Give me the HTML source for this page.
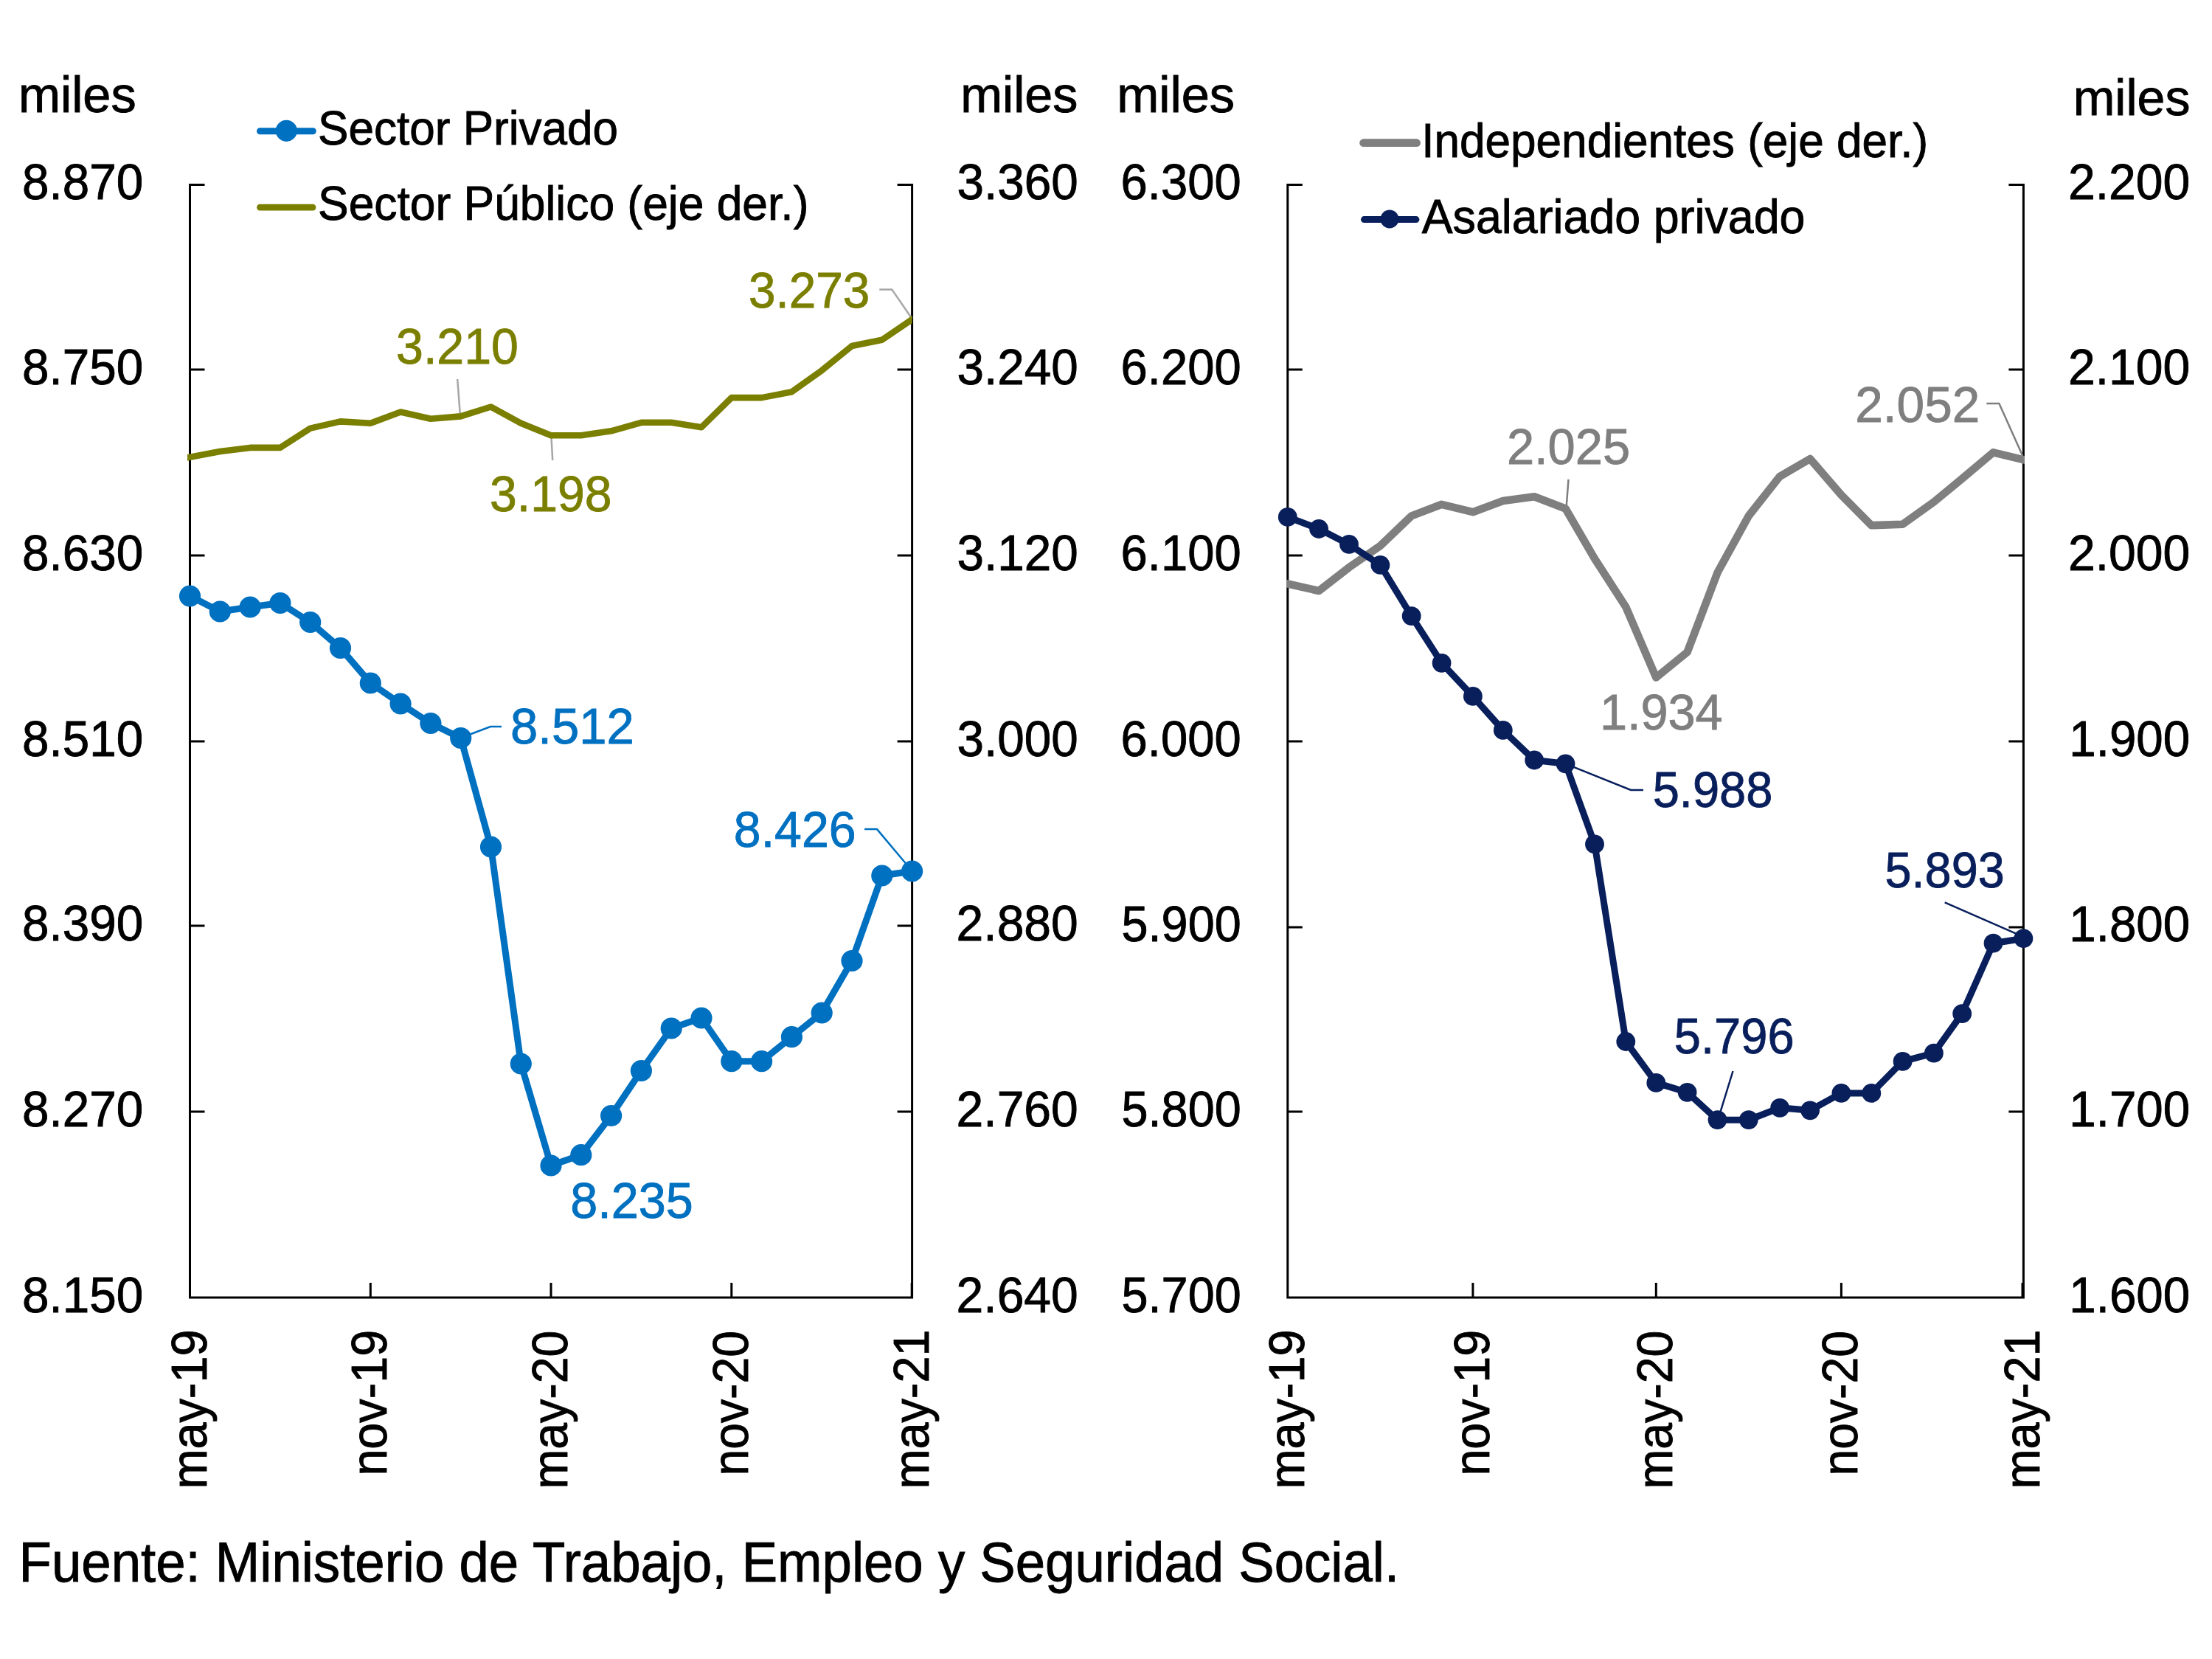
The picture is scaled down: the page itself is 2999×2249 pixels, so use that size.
<!DOCTYPE html>
<html lang="es"><head><meta charset="utf-8"><title>Empleo registrado</title>
<style>html,body{margin:0;padding:0;background:#fff}svg{display:block}text{font-family:'Liberation Sans', sans-serif;stroke-width:0.9px}</style></head><body>
<svg width="2999" height="2249" viewBox="0 0 2999 2249">
<rect width="2999" height="2249" fill="#fff"/>
<path d="M257.5 249.0 V1759.0 H1236.6 V249.0" stroke="#000" stroke-width="3" fill="none"/>
<path d="M257.5 250.5 h20 M1236.6 250.5 h-20 M257.5 501.0 h20 M1236.6 501.0 h-20 M257.5 753.0 h20 M1236.6 753.0 h-20 M257.5 1005.0 h20 M1236.6 1005.0 h-20 M257.5 1255.0 h20 M1236.6 1255.0 h-20 M257.5 1507.0 h20 M1236.6 1507.0 h-20 M502.3 1759.0 v-20 M747.0 1759.0 v-20 M991.8 1759.0 v-20 M1236.2 1759.0 v-20 " stroke="#000" stroke-width="3" fill="none"/>
<path d="M1745.8 249.0 V1759.0 H2743.4 V249.0" stroke="#000" stroke-width="3" fill="none"/>
<path d="M1745.8 250.5 h20 M2743.4 250.5 h-20 M1745.8 501.0 h20 M2743.4 501.0 h-20 M1745.8 753.0 h20 M2743.4 753.0 h-20 M1745.8 1005.0 h20 M2743.4 1005.0 h-20 M1745.8 1257.0 h20 M2743.4 1257.0 h-20 M1745.8 1507.0 h20 M2743.4 1507.0 h-20 M1996.9 1759.0 v-20 M2245.3 1759.0 v-20 M2496.4 1759.0 v-20 M2742.0 1759.0 v-20 " stroke="#000" stroke-width="3" fill="none"/>
<defs><clipPath id="cl"><rect x="254.0" y="0" width="982.6" height="2249"/></clipPath><clipPath id="cr"><rect x="1744.1" y="0" width="1000.8" height="2249"/></clipPath></defs>
<polyline points="620.2,514.0 623.9,562.8" fill="none" stroke="#A6A6A6" stroke-width="2.5"/>
<polyline points="747.4,591.4 749.2,624.0" fill="none" stroke="#A6A6A6" stroke-width="2.5"/>
<polyline points="1192.3,392.4 1209.2,392.4 1236.3,431.7" fill="none" stroke="#A6A6A6" stroke-width="2.5"/>
<polyline points="636.0,996.0 665.0,985.0 680.0,985.0" fill="none" stroke="#0070C0" stroke-width="2.5"/>
<polyline points="1172.1,1124.1 1189.0,1124.1 1228.0,1170.5" fill="none" stroke="#0070C0" stroke-width="2.5"/>
<polyline points="2126.5,649.9 2123.8,685.3" fill="none" stroke="#7F7F7F" stroke-width="2.5"/>
<polyline points="2693.4,547.1 2710.4,547.1 2742.3,618.0" fill="none" stroke="#7F7F7F" stroke-width="2.5"/>
<polyline points="2123.0,1035.7 2211.0,1070.9 2228.0,1070.9" fill="none" stroke="#081F5C" stroke-width="2.5"/>
<polyline points="2636.7,1223.3 2735.6,1266.7" fill="none" stroke="#081F5C" stroke-width="2.5"/>
<polyline points="2349.5,1452.0 2332.0,1508.8" fill="none" stroke="#081F5C" stroke-width="2.5"/>
<polyline points="257.5,619.8 298.3,612.0 339.1,606.9 379.9,606.9 420.7,580.6 461.5,571.4 502.3,573.7 543.1,558.5 583.9,567.7 624.7,564.4 665.5,551.5 706.3,573.7 747.0,590.3 787.8,590.3 828.6,584.3 869.4,572.8 910.2,572.8 951.0,579.2 991.8,539.1 1032.6,539.1 1073.4,531.2 1114.2,502.2 1155.0,469.0 1195.8,460.7 1236.6,433.0" fill="none" stroke="#7B7F00" stroke-width="8.6" stroke-linejoin="round" stroke-linecap="square" clip-path="url(#cl)"/>
<polyline points="257.5,808.0 298.3,829.0 339.1,823.0 379.9,817.5 420.7,843.5 461.5,878.5 502.3,926.0 543.1,954.0 583.9,980.5 624.7,1000.5 665.5,1148.0 706.3,1442.0 747.0,1580.0 787.8,1565.7 828.6,1512.5 869.4,1451.5 910.2,1394.0 951.0,1380.0 991.8,1438.7 1032.6,1438.7 1073.4,1405.7 1114.2,1373.0 1155.0,1302.5 1195.8,1187.0 1236.6,1181.0" fill="none" stroke="#0070C0" stroke-width="9" stroke-linejoin="round" stroke-linecap="round"/>
<g fill="#0070C0"><circle cx="257.5" cy="808.0" r="14.6"/><circle cx="298.3" cy="829.0" r="14.6"/><circle cx="339.1" cy="823.0" r="14.6"/><circle cx="379.9" cy="817.5" r="14.6"/><circle cx="420.7" cy="843.5" r="14.6"/><circle cx="461.5" cy="878.5" r="14.6"/><circle cx="502.3" cy="926.0" r="14.6"/><circle cx="543.1" cy="954.0" r="14.6"/><circle cx="583.9" cy="980.5" r="14.6"/><circle cx="624.7" cy="1000.5" r="14.6"/><circle cx="665.5" cy="1148.0" r="14.6"/><circle cx="706.3" cy="1442.0" r="14.6"/><circle cx="747.0" cy="1580.0" r="14.6"/><circle cx="787.8" cy="1565.7" r="14.6"/><circle cx="828.6" cy="1512.5" r="14.6"/><circle cx="869.4" cy="1451.5" r="14.6"/><circle cx="910.2" cy="1394.0" r="14.6"/><circle cx="951.0" cy="1380.0" r="14.6"/><circle cx="991.8" cy="1438.7" r="14.6"/><circle cx="1032.6" cy="1438.7" r="14.6"/><circle cx="1073.4" cy="1405.7" r="14.6"/><circle cx="1114.2" cy="1373.0" r="14.6"/><circle cx="1155.0" cy="1302.5" r="14.6"/><circle cx="1195.8" cy="1187.0" r="14.6"/><circle cx="1236.6" cy="1181.0" r="14.6"/></g>
<polyline points="1745.8,791.5 1788.1,801.0 1829.0,769.2 1871.4,739.8 1913.7,699.4 1954.6,683.8 1996.9,694.2 2037.8,679.0 2080.2,673.3 2122.5,689.5 2162.0,757.3 2204.3,822.8 2245.3,918.5 2287.6,884.0 2328.5,776.3 2370.8,699.4 2413.1,645.8 2454.1,622.0 2496.4,671.0 2537.3,712.2 2579.6,710.8 2621.9,680.5 2660.2,648.9 2702.5,613.3 2743.4,623.2" fill="none" stroke="#7F7F7F" stroke-width="10.6" stroke-linejoin="round" stroke-linecap="square" clip-path="url(#cr)"/>
<polyline points="1745.8,700.9 1788.1,717.0 1829.0,737.9 1871.4,765.9 1913.7,835.2 1954.6,898.8 1996.9,943.9 2037.8,989.9 2080.2,1030.5 2122.5,1035.3 2162.0,1144.4 2204.3,1412.0 2245.3,1467.9 2287.6,1480.8 2328.5,1518.2 2370.8,1518.2 2413.1,1501.8 2454.1,1505.3 2496.4,1481.9 2537.3,1481.9 2579.6,1438.9 2621.9,1427.7 2660.2,1374.2 2702.5,1278.7 2743.4,1272.2" fill="none" stroke="#081F5C" stroke-width="9" stroke-linejoin="round" stroke-linecap="round"/>
<g fill="#081F5C"><circle cx="1745.8" cy="700.9" r="12.9"/><circle cx="1788.1" cy="717.0" r="12.9"/><circle cx="1829.0" cy="737.9" r="12.9"/><circle cx="1871.4" cy="765.9" r="12.9"/><circle cx="1913.7" cy="835.2" r="12.9"/><circle cx="1954.6" cy="898.8" r="12.9"/><circle cx="1996.9" cy="943.9" r="12.9"/><circle cx="2037.8" cy="989.9" r="12.9"/><circle cx="2080.2" cy="1030.5" r="12.9"/><circle cx="2122.5" cy="1035.3" r="12.9"/><circle cx="2162.0" cy="1144.4" r="12.9"/><circle cx="2204.3" cy="1412.0" r="12.9"/><circle cx="2245.3" cy="1467.9" r="12.9"/><circle cx="2287.6" cy="1480.8" r="12.9"/><circle cx="2328.5" cy="1518.2" r="12.9"/><circle cx="2370.8" cy="1518.2" r="12.9"/><circle cx="2413.1" cy="1501.8" r="12.9"/><circle cx="2454.1" cy="1505.3" r="12.9"/><circle cx="2496.4" cy="1481.9" r="12.9"/><circle cx="2537.3" cy="1481.9" r="12.9"/><circle cx="2579.6" cy="1438.9" r="12.9"/><circle cx="2621.9" cy="1427.7" r="12.9"/><circle cx="2660.2" cy="1374.2" r="12.9"/><circle cx="2702.5" cy="1278.7" r="12.9"/><circle cx="2743.4" cy="1272.2" r="12.9"/></g>
<polyline points="352.5,177.8 424.3,177.8" fill="none" stroke="#0070C0" stroke-width="9" stroke-linejoin="round" stroke-linecap="round"/>
<g fill="#0070C0"><circle cx="388.3" cy="177.3" r="14.6"/></g>
<polyline points="352.4,281.1 424.1,281.1" fill="none" stroke="#7B7F00" stroke-width="8.6" stroke-linejoin="round" stroke-linecap="round"/>
<polyline points="1848.6,193.7 1920.6,193.7" fill="none" stroke="#7F7F7F" stroke-width="10.8" stroke-linejoin="round" stroke-linecap="round"/>
<polyline points="1849.5,297.6 1919.9,297.6" fill="none" stroke="#081F5C" stroke-width="9" stroke-linejoin="round" stroke-linecap="round"/>
<g fill="#081F5C"><circle cx="1884.0" cy="297.0" r="12.5"/></g>
<text x="30.1" y="270.0" font-size="68" fill="#000" stroke="#000" textLength="164.0" lengthAdjust="spacingAndGlyphs">8.870</text>
<text x="30.1" y="520.5" font-size="68" fill="#000" stroke="#000" textLength="164.0" lengthAdjust="spacingAndGlyphs">8.750</text>
<text x="30.1" y="772.5" font-size="68" fill="#000" stroke="#000" textLength="164.0" lengthAdjust="spacingAndGlyphs">8.630</text>
<text x="30.1" y="1024.5" font-size="68" fill="#000" stroke="#000" textLength="164.0" lengthAdjust="spacingAndGlyphs">8.510</text>
<text x="30.1" y="1274.5" font-size="68" fill="#000" stroke="#000" textLength="164.0" lengthAdjust="spacingAndGlyphs">8.390</text>
<text x="30.1" y="1526.5" font-size="68" fill="#000" stroke="#000" textLength="164.0" lengthAdjust="spacingAndGlyphs">8.270</text>
<text x="30.1" y="1778.5" font-size="68" fill="#000" stroke="#000" textLength="164.0" lengthAdjust="spacingAndGlyphs">8.150</text>
<text x="1297.6" y="270.0" font-size="68" fill="#000" stroke="#000" textLength="164.2" lengthAdjust="spacingAndGlyphs">3.360</text>
<text x="1297.6" y="520.5" font-size="68" fill="#000" stroke="#000" textLength="164.2" lengthAdjust="spacingAndGlyphs">3.240</text>
<text x="1297.6" y="772.5" font-size="68" fill="#000" stroke="#000" textLength="164.2" lengthAdjust="spacingAndGlyphs">3.120</text>
<text x="1297.6" y="1024.5" font-size="68" fill="#000" stroke="#000" textLength="164.2" lengthAdjust="spacingAndGlyphs">3.000</text>
<text x="1296.6" y="1274.5" font-size="68" fill="#000" stroke="#000" textLength="165.2" lengthAdjust="spacingAndGlyphs">2.880</text>
<text x="1296.6" y="1526.5" font-size="68" fill="#000" stroke="#000" textLength="165.2" lengthAdjust="spacingAndGlyphs">2.760</text>
<text x="1296.6" y="1778.5" font-size="68" fill="#000" stroke="#000" textLength="165.2" lengthAdjust="spacingAndGlyphs">2.640</text>
<text x="1519.6" y="270.0" font-size="68" fill="#000" stroke="#000" textLength="163.1" lengthAdjust="spacingAndGlyphs">6.300</text>
<text x="1519.6" y="520.5" font-size="68" fill="#000" stroke="#000" textLength="163.1" lengthAdjust="spacingAndGlyphs">6.200</text>
<text x="1519.6" y="772.5" font-size="68" fill="#000" stroke="#000" textLength="163.1" lengthAdjust="spacingAndGlyphs">6.100</text>
<text x="1519.6" y="1024.5" font-size="68" fill="#000" stroke="#000" textLength="163.1" lengthAdjust="spacingAndGlyphs">6.000</text>
<text x="1520.6" y="1275.5" font-size="68" fill="#000" stroke="#000" textLength="162.1" lengthAdjust="spacingAndGlyphs">5.900</text>
<text x="1520.6" y="1526.5" font-size="68" fill="#000" stroke="#000" textLength="162.1" lengthAdjust="spacingAndGlyphs">5.800</text>
<text x="1520.6" y="1778.5" font-size="68" fill="#000" stroke="#000" textLength="162.1" lengthAdjust="spacingAndGlyphs">5.700</text>
<text x="2803.9" y="270.0" font-size="68" fill="#000" stroke="#000" textLength="165.3" lengthAdjust="spacingAndGlyphs">2.200</text>
<text x="2803.9" y="520.5" font-size="68" fill="#000" stroke="#000" textLength="165.3" lengthAdjust="spacingAndGlyphs">2.100</text>
<text x="2803.9" y="772.5" font-size="68" fill="#000" stroke="#000" textLength="165.3" lengthAdjust="spacingAndGlyphs">2.000</text>
<text x="2805.3" y="1024.5" font-size="68" fill="#000" stroke="#000" textLength="163.9" lengthAdjust="spacingAndGlyphs">1.900</text>
<text x="2805.3" y="1275.5" font-size="68" fill="#000" stroke="#000" textLength="163.9" lengthAdjust="spacingAndGlyphs">1.800</text>
<text x="2805.3" y="1526.5" font-size="68" fill="#000" stroke="#000" textLength="163.9" lengthAdjust="spacingAndGlyphs">1.700</text>
<text x="2805.3" y="1778.5" font-size="68" fill="#000" stroke="#000" textLength="163.9" lengthAdjust="spacingAndGlyphs">1.600</text>
<text x="25.0" y="151.8" font-size="68" fill="#000" stroke="#000" textLength="159.6" lengthAdjust="spacingAndGlyphs">miles</text>
<text x="1302.2" y="151.8" font-size="68" fill="#000" stroke="#000" textLength="159.2" lengthAdjust="spacingAndGlyphs">miles</text>
<text x="1514.3" y="151.8" font-size="68" fill="#000" stroke="#000" textLength="159.8" lengthAdjust="spacingAndGlyphs">miles</text>
<text x="2810.7" y="155.9" font-size="68" fill="#000" stroke="#000" textLength="158.7" lengthAdjust="spacingAndGlyphs">miles</text>
<text x="431.1" y="195.7" font-size="64.5" fill="#000" stroke="#000" textLength="407.0" lengthAdjust="spacingAndGlyphs">Sector Privado</text>
<text x="431.1" y="298.0" font-size="64.5" fill="#000" stroke="#000" textLength="665.3" lengthAdjust="spacingAndGlyphs">Sector Público (eje der.)</text>
<text x="1927.2" y="212.7" font-size="64.5" fill="#000" stroke="#000" textLength="687.0" lengthAdjust="spacingAndGlyphs">Independientes (eje der.)</text>
<text x="1927.7" y="315.6" font-size="64.5" fill="#000" stroke="#000" textLength="519.8" lengthAdjust="spacingAndGlyphs">Asalariado privado</text>
<text x="25.6" y="2144.3" font-size="76" fill="#000" stroke="#000" textLength="1871.5" lengthAdjust="spacingAndGlyphs">Fuente: Ministerio de Trabajo, Empleo y Seguridad Social.</text>
<text x="537.0" y="492.5" font-size="69" fill="#7B7F00" stroke="#7B7F00" textLength="166.0" lengthAdjust="spacingAndGlyphs">3.210</text>
<text x="664.1" y="693.2" font-size="69" fill="#7B7F00" stroke="#7B7F00" textLength="165.5" lengthAdjust="spacingAndGlyphs">3.198</text>
<text x="1015.0" y="417.2" font-size="69" fill="#7B7F00" stroke="#7B7F00" textLength="164.2" lengthAdjust="spacingAndGlyphs">3.273</text>
<text x="692.1" y="1007.5" font-size="69" fill="#0070C0" stroke="#0070C0" textLength="167.6" lengthAdjust="spacingAndGlyphs">8.512</text>
<text x="994.8" y="1147.6" font-size="69" fill="#0070C0" stroke="#0070C0" textLength="165.8" lengthAdjust="spacingAndGlyphs">8.426</text>
<text x="773.2" y="1651.2" font-size="69" fill="#0070C0" stroke="#0070C0" textLength="166.6" lengthAdjust="spacingAndGlyphs">8.235</text>
<text x="2042.9" y="628.9" font-size="69" fill="#7F7F7F" stroke="#7F7F7F" textLength="167.2" lengthAdjust="spacingAndGlyphs">2.025</text>
<text x="2515.3" y="571.9" font-size="69" fill="#7F7F7F" stroke="#7F7F7F" textLength="169.0" lengthAdjust="spacingAndGlyphs">2.052</text>
<text x="2168.9" y="988.6" font-size="69" fill="#7F7F7F" stroke="#7F7F7F" textLength="166.7" lengthAdjust="spacingAndGlyphs">1.934</text>
<text x="2240.7" y="1093.5" font-size="69" fill="#081F5C" stroke="#081F5C" textLength="162.7" lengthAdjust="spacingAndGlyphs">5.988</text>
<text x="2555.5" y="1202.5" font-size="69" fill="#081F5C" stroke="#081F5C" textLength="162.3" lengthAdjust="spacingAndGlyphs">5.893</text>
<text x="2269.8" y="1428.3" font-size="69" fill="#081F5C" stroke="#081F5C" textLength="162.8" lengthAdjust="spacingAndGlyphs">5.796</text>
<text transform="translate(279.5 2018.6) rotate(-90)" font-size="68" fill="#000" stroke="#000" textLength="216.1" lengthAdjust="spacingAndGlyphs">may-19</text>
<text transform="translate(524.3 2000.6) rotate(-90)" font-size="68" fill="#000" stroke="#000" textLength="197.7" lengthAdjust="spacingAndGlyphs">nov-19</text>
<text transform="translate(769.0 2018.6) rotate(-90)" font-size="68" fill="#000" stroke="#000" textLength="215.1" lengthAdjust="spacingAndGlyphs">may-20</text>
<text transform="translate(1013.8 2000.6) rotate(-90)" font-size="68" fill="#000" stroke="#000" textLength="196.7" lengthAdjust="spacingAndGlyphs">nov-20</text>
<text transform="translate(1258.6 2018.6) rotate(-90)" font-size="68" fill="#000" stroke="#000" textLength="216.1" lengthAdjust="spacingAndGlyphs">may-21</text>
<text transform="translate(1767.8 2018.6) rotate(-90)" font-size="68" fill="#000" stroke="#000" textLength="216.1" lengthAdjust="spacingAndGlyphs">may-19</text>
<text transform="translate(2018.9 2000.6) rotate(-90)" font-size="68" fill="#000" stroke="#000" textLength="197.7" lengthAdjust="spacingAndGlyphs">nov-19</text>
<text transform="translate(2267.3 2018.6) rotate(-90)" font-size="68" fill="#000" stroke="#000" textLength="215.1" lengthAdjust="spacingAndGlyphs">may-20</text>
<text transform="translate(2518.4 2000.6) rotate(-90)" font-size="68" fill="#000" stroke="#000" textLength="196.7" lengthAdjust="spacingAndGlyphs">nov-20</text>
<text transform="translate(2765.4 2018.6) rotate(-90)" font-size="68" fill="#000" stroke="#000" textLength="216.1" lengthAdjust="spacingAndGlyphs">may-21</text>
</svg></body></html>
